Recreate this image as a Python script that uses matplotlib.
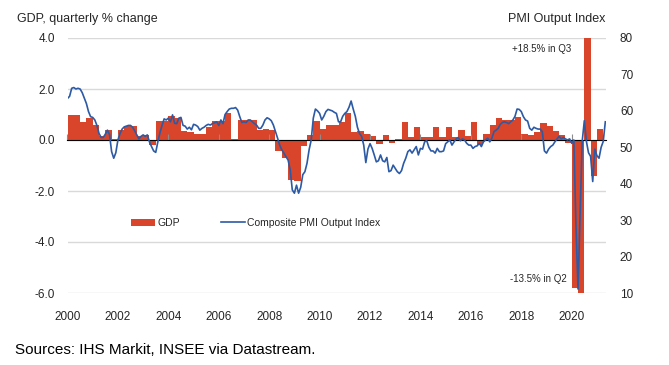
#!/usr/bin/env python3
"""
France: GDP quarterly % change (bars) vs composite PMI output index (line).
"""

import matplotlib
matplotlib.use("Agg")
import matplotlib.pyplot as plt
from matplotlib.patches import Patch
from matplotlib.lines import Line2D
from matplotlib.ticker import NullFormatter

# GDP, quarterly % change, 2000 Q1 .. 2021 Q1
gdp = [
    1.0, 1.0, 0.7, 0.85,      # 2000
    0.6, 0.15, 0.4, 0.05,     # 2001
    0.4, 0.55, 0.55, 0.15,    # 2002
    0.2, -0.2, 0.75, 0.75,    # 2003
    0.95, 0.85, 0.35, 0.3,    # 2004
    0.25, 0.25, 0.5, 0.75,    # 2005
    0.75, 1.05, 0.05, 0.8,    # 2006
    0.8, 0.8, 0.4, 0.45,      # 2007
    0.4, -0.45, -0.7, -1.55,  # 2008
    -1.6, -0.25, 0.2, 0.75,   # 2009
    0.45, 0.6, 0.6, 0.7,      # 2010
    1.05, 0.3, 0.35, 0.25,    # 2011
    0.15, -0.15, 0.2, -0.1,   # 2012
    0.05, 0.7, 0.1, 0.5,      # 2013
    0.1, 0.1, 0.5, 0.1,       # 2014
    0.5, 0.1, 0.4, 0.15,      # 2015
    0.7, -0.2, 0.25, 0.6,     # 2016
    0.85, 0.8, 0.8, 0.9,      # 2017
    0.25, 0.2, 0.3, 0.65,     # 2018
    0.55, 0.35, 0.2, -0.1,    # 2019
    -5.8, -13.5, 18.5, -1.4,  # 2020
    0.45,                     # 2021
]

# Composite PMI output index, monthly from Jan 2000
pmi_2000_2004 = [
    63.4, 64.0, 66.2, 66.4, 66.0, 66.2, 66.0, 65.0, 63.5, 62.0, 59.8, 58.4,
    58.2, 57.5, 56.0, 53.8, 52.7, 52.7, 53.6, 54.7, 53.5, 48.8, 47.0, 48.5,
    52.0, 53.8, 55.0, 55.6, 55.8, 56.0, 56.0, 55.5, 54.5, 53.4, 52.3, 53.0,
    53.4, 53.0, 53.4, 51.5, 50.2, 49.0, 48.6, 51.5, 54.0, 56.0, 57.8, 57.5,
    58.0, 57.0, 58.9, 56.6, 56.5, 58.0, 58.2, 56.0, 55.8, 55.0, 55.5, 54.8,
]
pmi_2005_2009 = [
    56.3, 56.1, 55.7, 54.7, 55.2, 55.5, 56.0, 56.3, 56.1, 56.5, 56.7, 57.0,
    56.0, 57.5, 56.5, 59.0, 59.8, 60.5, 60.7, 60.7, 60.9, 60.2, 58.4, 56.8,
    57.0, 56.8, 57.5, 57.5, 57.0, 56.5, 56.1, 55.2, 55.2, 56.1, 57.5, 58.1,
    57.8, 57.3, 56.1, 54.3, 52.5, 50.6, 49.3, 48.4, 47.4, 46.5, 43.8, 38.3,
    37.4, 39.6, 37.4, 39.0, 42.5, 43.3, 45.6, 49.3, 52.0, 58.0, 60.5, 60.0,
]
pmi_2010_2014 = [
    59.3, 57.5, 58.5, 59.8, 60.4, 60.2, 60.0, 59.6, 59.3, 57.0, 57.0, 58.5,
    59.3, 59.8, 61.0, 62.7, 60.5, 58.5, 55.5, 53.8, 53.0, 50.6, 45.8, 49.5,
    51.0, 49.7, 47.9, 46.0, 46.3, 47.9, 46.3, 46.0, 47.2, 43.3, 43.6, 45.1,
    44.2, 43.3, 42.8, 43.6, 45.6, 47.0, 48.8, 49.3, 48.4, 49.3, 50.2, 47.9,
    49.7, 49.5, 51.5, 51.8, 50.0, 49.0, 49.0, 48.4, 49.7, 48.8, 48.8, 49.0,
]
pmi_2015_2019 = [
    51.0, 51.5, 52.0, 50.6, 51.5, 52.3, 52.7, 51.8, 52.3, 52.0, 51.1, 50.6,
    50.6, 49.7, 50.2, 50.4, 51.1, 50.2, 51.5, 52.0, 52.5, 51.5, 52.5, 54.3,
    54.7, 55.2, 56.3, 56.8, 57.0, 56.8, 56.5, 57.0, 57.5, 58.5, 60.5, 60.4,
    59.8, 58.4, 57.5, 57.2, 55.2, 54.7, 55.5, 55.2, 55.0, 55.0, 54.3, 49.0,
    48.4, 49.5, 50.2, 50.6, 51.5, 52.3, 53.0, 52.3, 52.7, 52.3, 52.0, 52.3,
]
pmi_2020_2021 = [
    51.1, 52.0, 28.9, 11.1, 32.1, 51.7, 57.3, 51.6, 48.5, 47.5, 40.6, 49.5,
    47.7, 47.0, 50.0, 51.6, 57.0,
]

year_ticks = list(range(2000, 2021, 2))
gdp_ticks = [4.0, 2.0, 0.0, -2.0, -4.0, -6.0]
pmi_ticks = [10, 20, 30, 40, 50, 60, 70, 80]

BAR_COLOR = "#d8452b"
LINE_COLOR = "#2c5aa5"
TEXT_COLOR = "#262626"
GRID_COLOR = "#d9d9d9"

W, H = 669, 365


def main() -> int:
    plt.rcParams["font.family"] = ["Liberation Sans", "DejaVu Sans"]

    pmi = pmi_2000_2004 + pmi_2005_2009 + pmi_2010_2014 + pmi_2015_2019 + pmi_2020_2021
    pmi_x = [2000 + m / 12 for m in range(len(pmi))]
    gdp_x = [2000 + q * 0.25 for q in range(len(gdp))]

    fig = plt.figure(figsize=(W / 100, H / 100), dpi=100)
    left, right, top, bottom = 67.5, 606, 38, 293
    ax = fig.add_axes([left / W, 1 - bottom / H, (right - left) / W, (bottom - top) / H])

    ax.bar(gdp_x, gdp, width=0.25, align="edge", color=BAR_COLOR, linewidth=0, zorder=2)

    ax.set_xlim(2000, 2021.36)
    ax.set_ylim(-6, 4)
    ax.set_yticks(gdp_ticks)
    ax.set_yticklabels([f"{v:.1f}" for v in gdp_ticks])
    ax.set_xticks(year_ticks)
    ax.grid(axis="y", color=GRID_COLOR, linewidth=1.0, zorder=0)
    ax.set_axisbelow(True)
    for s in ax.spines.values():
        s.set_visible(False)
    ax.tick_params(axis="both", length=0, labelsize=8.5, colors=TEXT_COLOR)
    ax.tick_params(axis="y", pad=9)
    ax.tick_params(axis="x", pad=13)

    # zero line with small tick marks (no labels)
    zero = ax.secondary_xaxis(0.6)
    zero.set_xticks(year_ticks)
    zero.xaxis.set_major_formatter(NullFormatter())
    zero.tick_params(axis="x", length=4, width=0.8, color="#8c8c8c")
    zero.spines["bottom"].set_color("#8c8c8c")
    zero.spines["bottom"].set_linewidth(1.0)
    zero.set_zorder(3)

    ax2 = ax.twinx()
    ax2.plot(pmi_x, pmi, color=LINE_COLOR, linewidth=1.2, zorder=4)
    ax2.set_ylim(10, 80)
    ax2.set_yticks(pmi_ticks)
    for s in ax2.spines.values():
        s.set_visible(False)
    ax2.tick_params(axis="y", length=0, labelsize=8.5, colors=TEXT_COLOR, pad=10)

    ax.text(2019.97, 3.57, "+18.5% in Q3", ha="right", va="center", fontsize=7, color=TEXT_COLOR)
    ax.text(2019.82, -5.45, "-13.5% in Q2", ha="right", va="center", fontsize=7, color=TEXT_COLOR)

    handles = [
        Patch(facecolor=BAR_COLOR, edgecolor="none"),
        Line2D([], [], color=LINE_COLOR, linewidth=1.2),
    ]
    fig.legend(
        handles, ["GDP", "Composite PMI Output Index"],
        loc="center left", bbox_to_anchor=(126 / W, 1 - 223 / H),
        ncol=2, frameon=False, fontsize=7.5, borderpad=0,
        handlelength=2.3, handletextpad=0.2, columnspacing=4.0,
        labelcolor=TEXT_COLOR,
    )

    fig.text(17 / W, 1 - 19 / H, "GDP, quarterly % change", ha="left", va="center",
             fontsize=9, color=TEXT_COLOR)
    fig.text(605 / W, 1 - 19 / H, "PMI Output Index", ha="right", va="center",
             fontsize=9, color=TEXT_COLOR)
    fig.text(15 / W, 1 - 350 / H, "Sources: IHS Markit, INSEE via Datastream.",
             ha="left", va="center", fontsize=11, color="black")

    fig.savefig("out.png", dpi=100, facecolor="white")
    return 0


if __name__ == "__main__":
    raise SystemExit(main())
